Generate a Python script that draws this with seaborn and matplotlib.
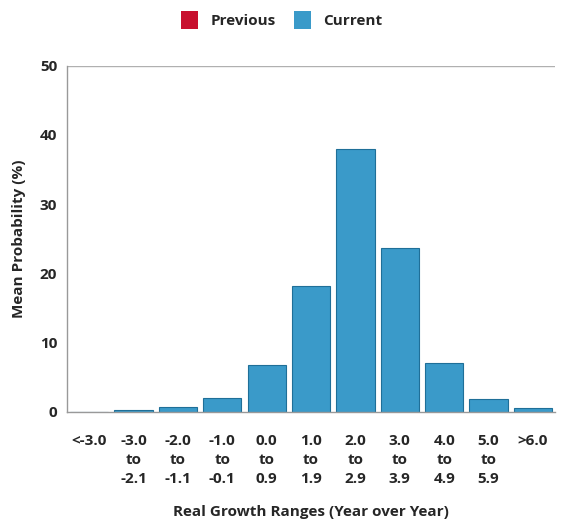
"""
Mean probability of real growth ranges - bar chart.
"""

import numpy as np
import pandas as pd
import matplotlib.pyplot as plt
from matplotlib.patches import Patch
import seaborn as sns

# Data
ranges = ['<-3.0', '-3.0\nto\n-2.1', '-2.0\nto\n-1.1', '-1.0\nto\n-0.1', '0.0\nto\n0.9',
          '1.0\nto\n1.9', '2.0\nto\n2.9', '3.0\nto\n3.9', '4.0\nto\n4.9', '5.0\nto\n5.9', '>6.0']
current = [0.05, 0.2, 0.7, 2.0, 6.8, 18.2, 38.0, 23.7, 7.1, 1.8, 0.5]
series_names = ['Previous', 'Current']
series_colors = ['#c8102e', '#3a9ac9']

df = pd.DataFrame({'range': ranges, 'prob': current})

sns.set_style('white')
plt.rcParams['font.family'] = ['Open Sans', 'DejaVu Sans']
plt.rcParams['font.weight'] = 'bold'

fig = plt.figure(figsize=(5.63, 5.26), dpi=100)
ax = fig.add_axes([0.119, 0.217, 0.867, 0.658])

sns.barplot(data=df, x='range', y='prob', color=series_colors[1], saturation=1,
            width=0.86, edgecolor='#1f6f98', linewidth=0.8, ax=ax)

ax.set_ylim(0, 50)
ax.set_yticks([0, 10, 20, 30, 40, 50])
ax.axhline(50, color='#b0b0b0', lw=1, zorder=0)
ax.tick_params(axis='y', length=4, color='#888888', labelsize=11, pad=3)
ax.tick_params(axis='x', length=0, labelsize=11, pad=16)
for lab in ax.get_xticklabels() + ax.get_yticklabels():
    lab.set_fontweight('bold')
    lab.set_linespacing(1.45)

for side in ['top', 'right']:
    ax.spines[side].set_visible(False)
for side in ['left', 'bottom']:
    ax.spines[side].set_color('#999999')
    ax.spines[side].set_linewidth(1)

ax.set_ylabel('Mean Probability (%)', fontsize=11, fontweight='bold', labelpad=10)
ax.set_xlabel('Real Growth Ranges (Year over Year)', fontsize=11, fontweight='bold', labelpad=14)

handles = [Patch(facecolor=c, edgecolor='none') for c in series_colors]
fig.legend(handles, series_names, loc='upper center', bbox_to_anchor=(0.5, 1.005), ncol=2,
           frameon=False, handlelength=1.1, handleheight=1.4, handletextpad=0.8,
           columnspacing=1.2, prop={'weight': 'bold', 'size': 11})

plt.savefig('out.png', dpi=100)
